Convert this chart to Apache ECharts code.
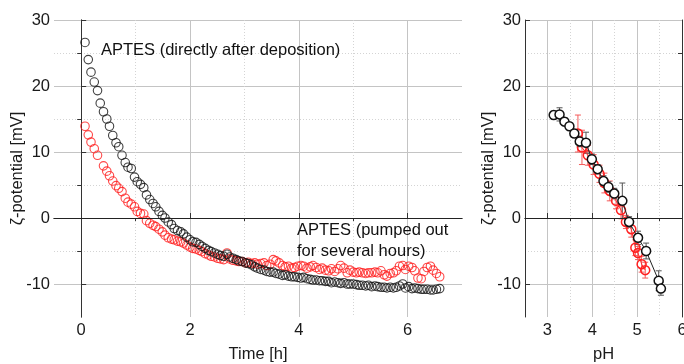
<!DOCTYPE html>
<html>
<head>
<meta charset="utf-8">
<script src="https://cdn.jsdelivr.net/npm/echarts@6/dist/echarts.min.js"></script>
<style>
  html, body { margin: 0; background: #fff; }
  #chart { width: 684px; height: 364px; }
</style>
</head>
<body>
<div id="chart"></div>
<script>
// time series (left panel), one reading every ~3.4 min
const timeH = [
  0.07, 0.13, 0.18, 0.24, 0.30, 0.35, 0.41, 0.47, 0.52, 0.58,
  0.64, 0.69, 0.75, 0.81, 0.86, 0.92, 0.98, 1.03, 1.09, 1.15,
  1.20, 1.26, 1.32, 1.37, 1.43, 1.49, 1.54, 1.60, 1.66, 1.71,
  1.77, 1.83, 1.88, 1.94, 2.00, 2.05, 2.11, 2.17, 2.22, 2.28,
  2.34, 2.39, 2.45, 2.51, 2.56, 2.62, 2.68, 2.73, 2.79, 2.85,
  2.90, 2.96, 3.02, 3.07, 3.13, 3.19, 3.24, 3.30, 3.36, 3.41,
  3.47, 3.53, 3.58, 3.64, 3.70, 3.75, 3.81, 3.87, 3.92, 3.98,
  4.04, 4.09, 4.15, 4.21, 4.26, 4.32, 4.38, 4.43, 4.49, 4.55,
  4.60, 4.66, 4.72, 4.77, 4.83, 4.89, 4.94, 5.00, 5.06, 5.11,
  5.17, 5.23, 5.28, 5.34, 5.40, 5.45, 5.51, 5.57, 5.62, 5.68,
  5.74, 5.79, 5.85, 5.91, 5.96, 6.02, 6.08, 6.13, 6.19, 6.25,
  6.30, 6.36, 6.42, 6.47, 6.53, 6.59
]
// APTES directly after deposition (black)
const zetaFresh = [
  26.6, 24.0, 22.1, 20.6, 19.3, 17.4, 16.1, 15.0, 13.9, 12.5,
  11.4, 10.8, 9.5, 8.4, 7.7, 7.5, 6.2, 5.5, 5.1, 4.6,
  3.5, 2.8, 2.2, 1.7, 1.0, 0.4, 0.0, -0.6, -1.0, -1.6,
  -1.9, -2.1, -2.4, -2.9, -3.3, -3.6, -3.7, -4.0, -4.3, -4.6,
  -4.9, -5.1, -5.3, -5.5, -5.7, -5.8, -5.5, -5.9, -6.1, -6.3,
  -6.5, -6.6, -6.8, -6.9, -7.1, -7.4, -7.6, -7.8, -7.9, -8.1,
  -8.2, -8.2, -8.4, -8.5, -8.7, -8.6, -8.8, -8.9, -8.9, -9.0,
  -9.1, -9.0, -9.2, -9.3, -9.4, -9.4, -9.5, -9.5, -9.6, -9.6,
  -9.8, -9.7, -9.8, -9.9, -9.8, -10.0, -10.0, -10.0, -10.1, -10.2,
  -10.2, -10.3, -10.2, -10.4, -10.3, -10.4, -10.5, -10.5, -10.6, -10.5,
  -10.6, -10.5, -10.3, -10.0, -10.6, -10.4, -10.7, -10.6, -10.7, -10.8,
  -10.8, -10.8, -10.9, -10.9, -10.8, -10.7
]
// APTES pumped out for several hours (red), null = no reading
const zetaPumped = [
  13.9, 12.6, 11.5, 10.5, 9.5, null, 7.9, 7.1, 6.4, 5.6,
  4.9, 4.5, 4.0, 3.0, 2.4, 2.1, 1.7, 1.0, 0.7, 0.6,
  -0.4, -0.8, -1.1, -1.3, -1.7, -2.1, -2.6, -3.0, -3.2, -3.3,
  -3.5, -3.6, -3.8, -4.1, -4.4, -4.6, -4.7, -4.9, -5.1, -5.4,
  -5.6, -5.8, -5.9, -6.1, -6.2, -6.3, -5.3, -6.2, -6.4, -6.5,
  -6.6, -6.6, -6.8, -6.7, -6.9, -6.8, -7.0, -6.9, -6.8, -7.2,
  -7.0, -6.3, -6.5, -6.8, -7.2, -7.4, -7.3, -7.6, -7.5, -7.3,
  -7.2, -7.3, -7.6, -7.4, -7.2, -7.5, -7.8, -7.6, -7.9, -8.0,
  -7.7, -8.1, -7.7, -7.2, -7.6, -8.3, -7.9, -8.2, -8.3, -8.2,
  -8.3, -8.4, -8.3, -8.3, -8.2, -8.3, -8.0, -8.6, -8.8, -8.4,
  -8.3, -8.0, -7.3, -7.2, -7.8, -7.3, -7.5, -8.0, -9.1, -9.2,
  -8.1, -7.5, -7.3, -7.9, -8.4, -8.9
]

// pH titration (right panel)
const phFresh = [3.14, 3.27, 3.38, 3.49, 3.60, 3.72, 3.86, 3.99, 4.12, 4.25, 4.36, 4.49, 4.67, 4.82, 5.02, 5.20, 5.48, 5.53]
const zetaPhFresh = [15.6, 15.7, 14.6, 13.9, 12.8, 11.6, 11.4, 8.9, 7.4, 5.6, 4.7, 3.7, 2.6, -0.6, -3.0, -5.0, -9.5, -10.7]
const errPhFresh = [0.6, 1.0, 0.6, 0.5, 0.6, 0.8, 1.6, 0.8, 0.7, 0.8, 0.8, 0.8, 2.7, 0.8, 1.0, 1.2, 1.5, 1.0]
const phPumped = [3.68, 3.77, 3.90, 4.03, 4.16, 4.27, 4.39, 4.53, 4.64, 4.75, 4.87, 4.96, 5.02, 5.10, 5.18]
const zetaPhPumped = [12.8, 10.7, 9.5, 8.1, 6.7, 5.3, 4.1, 2.6, 1.2, -0.6, -1.7, -4.5, -5.3, -7.0, -7.9]
const errPhPumped = [2.8, 2.6, 1.5, 1.5, 1.3, 1.5, 1.5, 1.2, 1.3, 1.0, 1.2, 1.2, 1.0, 1.2, 1.2]

const timeTicks = [0, 2, 4, 6]
const timeMinor = [1, 3, 5]
const phTicks = [3, 4, 5, 6]
const phMinor = [3.5, 4.5, 5.5]
const zetaTicks = [-10, 0, 10, 20, 30]
const zetaMinor = [-5, 5, 15, 25]

const FONT = '"Liberation Sans", Arial, sans-serif'
const FS = 16.5
const BLACK = '#1a1a1a'

const chart = echarts.init(document.getElementById('chart'))

function pairs(xs, ys) {
  const out = []
  xs.forEach((x, i) => { if (ys[i] !== null) out.push([x, ys[i]]) })
  return out
}

// main axis: labels + solid grid; mirror axis: dotted minor grid
function xAxisMain(grid, min, max, ticks, name) {
  return {
    type: 'value', gridIndex: grid, position: 'bottom', min: min, max: max,
    name: name, nameLocation: 'middle', nameGap: 29, nameMoveOverlap: false,
    nameTextStyle: { fontFamily: FONT, fontSize: FS, color: BLACK },
    axisLine: { show: true, lineStyle: { color: '#333', width: 1 } },
    axisTick: { show: true, inside: true, length: 5, customValues: ticks, lineStyle: { color: '#333' } },
    axisLabel: { customValues: ticks, fontFamily: FONT, fontSize: FS, color: BLACK, margin: 5 },
    splitLine: { show: true, lineStyle: { color: '#c4c4c4', width: 1 } }
  }
}
function xAxisMirror(grid, min, max, ticks) {
  return {
    type: 'value', gridIndex: grid, position: 'top', min: min, max: max,
    axisLine: { show: true, lineStyle: { color: '#333', width: 1 } },
    axisTick: { show: true, inside: true, length: 3, customValues: ticks, lineStyle: { color: '#333' } },
    axisLabel: { show: false },
    splitLine: { show: true, lineStyle: { color: '#d4d4d4', width: 1, type: [1, 2] } }
  }
}
function yAxisMain(grid) {
  return {
    type: 'value', gridIndex: grid, position: 'left', min: -15, max: 30,
    name: 'ζ-potential [mV]', nameLocation: 'middle', nameGap: 28, nameMoveOverlap: false,
    nameTextStyle: { fontFamily: FONT, fontSize: FS, color: BLACK },
    axisLine: { show: true, lineStyle: { color: '#333', width: 1 } },
    axisTick: { show: true, inside: true, length: 5, customValues: zetaTicks, lineStyle: { color: '#333' } },
    axisLabel: { customValues: zetaTicks, fontFamily: FONT, fontSize: FS, color: BLACK, margin: 4 },
    splitLine: { show: true, lineStyle: { color: '#c4c4c4', width: 1 } }
  }
}
function yAxisMirror(grid) {
  return {
    type: 'value', gridIndex: grid, position: 'right', min: -15, max: 30,
    axisLine: { show: true, lineStyle: { color: '#333', width: 1 } },
    axisTick: { show: true, inside: true, length: 4, customValues: zetaMinor, lineStyle: { color: '#333' } },
    axisLabel: { show: false },
    splitLine: { show: true, lineStyle: { color: '#d4d4d4', width: 1, type: [1, 2] } }
  }
}

function errorBars(xs, ys, errs, color, axisIdx) {
  return {
    type: 'custom', xAxisIndex: axisIdx, yAxisIndex: axisIdx, z: 2,
    data: xs.map((x, i) => [x, ys[i] - errs[i], ys[i] + errs[i]]),
    encode: { x: 0, y: [1, 2] },
    renderItem(params, api) {
      const lo = api.coord([api.value(0), api.value(1)])
      const hi = api.coord([api.value(0), api.value(2)])
      const w = 3
      const style = { stroke: color, lineWidth: 1 }
      return {
        type: 'group',
        children: [
          { type: 'line', shape: { x1: lo[0], y1: lo[1], x2: hi[0], y2: hi[1] }, style: style },
          { type: 'line', shape: { x1: lo[0] - w, y1: lo[1], x2: lo[0] + w, y2: lo[1] }, style: style },
          { type: 'line', shape: { x1: hi[0] - w, y1: hi[1], x2: hi[0] + w, y2: hi[1] }, style: style }
        ]
      }
    }
  }
}

const zeroLine = {
  silent: true, symbol: 'none', label: { show: false },
  lineStyle: { color: '#222', width: 1.2, type: 'solid' },
  data: [{ yAxis: 0 }]
}

const option = {
  animation: false,
  backgroundColor: '#fff',
  grid: [
    { left: 54, top: 20, width: 408, height: 297, outerBoundsMode: 'none', containLabel: false },
    { left: 525, top: 20, width: 157, height: 297, outerBoundsMode: 'none', containLabel: false }
  ],
  xAxis: [
    xAxisMain(0, -0.5, 7, timeTicks, 'Time [h]'),
    xAxisMirror(0, -0.5, 7, timeMinor),
    xAxisMain(1, 2.5, 6, phTicks, 'pH'),
    xAxisMirror(1, 2.5, 6, phMinor)
  ],
  yAxis: [
    yAxisMain(0),
    yAxisMirror(0),
    yAxisMain(1),
    yAxisMirror(1)
  ],
  series: [
    {
      type: 'scatter', xAxisIndex: 0, yAxisIndex: 0, z: 3,
      data: pairs(timeH, zetaPumped),
      symbol: 'circle', symbolSize: 8.5,
      itemStyle: { color: 'rgba(255,255,255,0)', borderColor: '#ff1a1a', borderWidth: 1.1 },
      markLine: zeroLine
    },
    {
      type: 'scatter', xAxisIndex: 0, yAxisIndex: 0, z: 4,
      data: pairs(timeH, zetaFresh),
      symbol: 'circle', symbolSize: 8.5,
      itemStyle: { color: 'rgba(255,255,255,0)', borderColor: '#111', borderWidth: 1.1 }
    },
    errorBars(phPumped, zetaPhPumped, errPhPumped, '#f45a5a', 2),
    {
      type: 'line', xAxisIndex: 2, yAxisIndex: 2, z: 3,
      data: pairs(phPumped, zetaPhPumped),
      symbol: 'circle', symbolSize: 9, showSymbol: true,
      lineStyle: { color: '#ff3030', width: 1 },
      itemStyle: { color: 'rgba(255,255,255,0)', borderColor: '#ff2020', borderWidth: 1.5 },
      markLine: zeroLine
    },
    errorBars(phFresh, zetaPhFresh, errPhFresh, '#555', 2),
    {
      type: 'line', xAxisIndex: 2, yAxisIndex: 2, z: 5,
      data: pairs(phFresh, zetaPhFresh),
      symbol: 'circle', symbolSize: 9, showSymbol: true,
      lineStyle: { color: '#222', width: 1 },
      itemStyle: { color: '#fff', borderColor: '#111', borderWidth: 1.5 }
    }
  ],
  graphic: [
    {
      type: 'text', left: 101, top: 42, z: 10,
      style: { text: 'APTES (directly after deposition)', font: FS + 'px ' + FONT, fill: '#111' }
    },
    {
      type: 'text', left: 297, top: 220, z: 10,
      style: { text: 'APTES (pumped out\nfor several hours)', font: FS + 'px ' + FONT, fill: '#111', lineHeight: 21 }
    }
  ]
}

chart.setOption(option)
</script>
</body>
</html>
